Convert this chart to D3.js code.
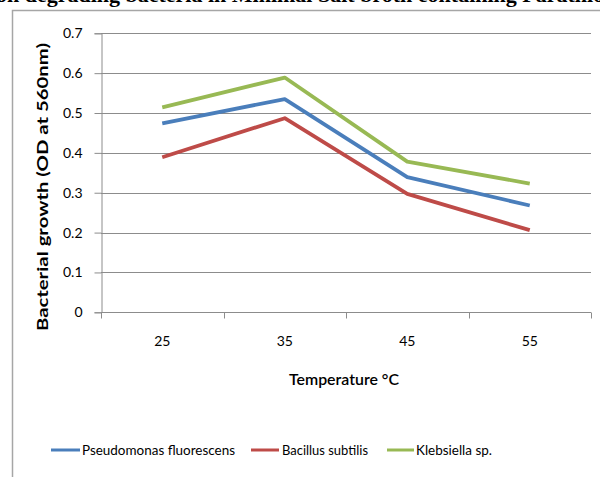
<!DOCTYPE html>
<html>
<head>
<meta charset="utf-8">
<script src="https://cdn.jsdelivr.net/npm/d3@7"></script>
<style>
  html, body { margin: 0; padding: 0; background: #fff; }
  svg { display: block; }
  text { font-family: Lato, "Open Sans", sans-serif; fill: #000; }
</style>
</head>
<body>
<svg id="chart" width="600" height="477"></svg>
<script>
// Temperatures tested (°C)
const temperatures = ["25", "35", "45", "55"];

// Optical density at 560 nm for each isolate
const pseudomonas = [0.474, 0.535, 0.339, 0.268];
const bacillus    = [0.389, 0.487, 0.297, 0.206];
const klebsiella  = [0.514, 0.589, 0.378, 0.323];

const seriesNames  = ["Pseudomonas fluorescens", "Bacillus subtilis", "Klebsiella sp."];
const seriesValues = [pseudomonas, bacillus, klebsiella];
const seriesColors = ["#4A7EBB", "#BE4B48", "#98B954"];

const yTicks = [0, 0.1, 0.2, 0.3, 0.4, 0.5, 0.6, 0.7];

const titleText = "Growth of Parathion degrading bacteria in Minimal Salt broth containing Parathion";

const svg = d3.select("#chart");

// Figure caption, partly above the top edge
const titleFont = "'Liberation Serif', 'DejaVu Serif', serif";
const title = svg.append("text")
  .attr("y", 1.5)
  .style("font-family", titleFont)
  .style("font-weight", "bold")
  .style("font-size", "22px")
  .text(titleText);
// align the word "bacteria" near x = 120
const probe = svg.append("text")
  .style("font-family", titleFont)
  .style("font-weight", "bold")
  .style("font-size", "22px")
  .text(titleText.slice(0, titleText.indexOf("bacteria")));
const prefixW = probe.node().getComputedTextLength();
probe.remove();
title.attr("x", 120 - prefixW);

// Chart area frame
svg.append("rect")
  .attr("x", 12.5).attr("y", 10.5)
  .attr("width", 640).attr("height", 520)
  .attr("fill", "none")
  .attr("stroke", "#a6a6a6")
  .attr("stroke-width", 1.5);

const plot = { left: 101, right: 591, top: 33.3, bottom: 312.3 };

const x = d3.scaleBand()
  .domain(temperatures)
  .range([plot.left, plot.right])
  .padding(0);

const y = d3.scaleLinear()
  .domain([0, 0.7])
  .range([plot.bottom, plot.top]);

// Horizontal gridlines
svg.append("g")
  .selectAll("line")
  .data(yTicks.filter(d => d > 0))
  .join("line")
  .attr("x1", plot.left).attr("x2", plot.right)
  .attr("y1", d => Math.round(y(d)) + 0.5)
  .attr("y2", d => Math.round(y(d)) + 0.5)
  .attr("stroke", "#8c8c8c")
  .attr("stroke-width", 1);

// Y axis
const yAxis = svg.append("g")
  .attr("transform", `translate(${plot.left + 0.5},0)`)
  .call(d3.axisLeft(y)
    .tickValues(yTicks)
    .tickSize(7)
    .tickPadding(12)
    .tickFormat(d => d === 0 ? "0" : d3.format(".1f")(d)));
yAxis.select(".domain").attr("stroke", "#8c8c8c").attr("stroke-width", 1);
yAxis.selectAll(".tick line").attr("stroke", "#8c8c8c");
yAxis.selectAll(".tick text")
  .style("font-size", "14px")
  .style("font-family", "Lato, sans-serif")
  .attr("fill", "#000");

// X axis: category labels centred in each band
const xAxis = svg.append("g")
  .attr("transform", `translate(0,${Math.round(plot.bottom) + 0.5})`)
  .call(d3.axisBottom(x).tickSize(0).tickPadding(24));
xAxis.select(".domain").remove();
xAxis.selectAll(".tick text")
  .style("font-size", "14px")
  .style("font-family", "Lato, sans-serif")
  .attr("fill", "#000");

// X axis line and tick marks at the band boundaries
const boundaries = temperatures.map(t => x(t)).concat([x(temperatures[temperatures.length - 1]) + x.bandwidth()]);
const by = Math.round(plot.bottom) + 0.5;
svg.append("line")
  .attr("x1", plot.left).attr("x2", plot.right)
  .attr("y1", by).attr("y2", by)
  .attr("stroke", "#8c8c8c");
svg.append("g")
  .selectAll("line")
  .data(boundaries)
  .join("line")
  .attr("x1", d => Math.round(d) + 0.5).attr("x2", d => Math.round(d) + 0.5)
  .attr("y1", by).attr("y2", by + 6)
  .attr("stroke", "#8c8c8c");

// Series lines
const line = d3.line()
  .x((d, i) => x(temperatures[i]) + x.bandwidth() / 2)
  .y(d => y(d));

svg.append("g")
  .selectAll("path")
  .data(seriesValues)
  .join("path")
  .attr("d", d => line(d))
  .attr("fill", "none")
  .attr("stroke", (d, i) => seriesColors[i])
  .attr("stroke-width", 3.8)
  .attr("stroke-linejoin", "round");

// Axis titles
svg.append("text")
  .attr("transform", "translate(48,187) rotate(-90)")
  .attr("text-anchor", "middle")
  .attr("textLength", 288)
  .attr("lengthAdjust", "spacingAndGlyphs")
  .style("font-weight", "bold")
  .style("font-size", "15px")
  .text("Bacterial growth (OD at 560nm)");

svg.append("text")
  .attr("x", 344).attr("y", 385)
  .attr("text-anchor", "middle")
  .attr("textLength", 110)
  .attr("lengthAdjust", "spacingAndGlyphs")
  .style("font-size", "15px")
  .style("font-weight", "600")
  .text("Temperature °C");

// Legend
const legendItems = [
  { x0: 51, x1: 80, tx: 82, w: 153 },
  { x0: 251, x1: 279, tx: 282, w: 86 },
  { x0: 387, x1: 414, tx: 416, w: 76 }
];
const legend = svg.append("g");
legend.selectAll("line")
  .data(seriesNames)
  .join("line")
  .attr("x1", (d, i) => legendItems[i].x0)
  .attr("x2", (d, i) => legendItems[i].x1)
  .attr("y1", 450).attr("y2", 450)
  .attr("stroke", (d, i) => seriesColors[i])
  .attr("stroke-width", 3);
legend.selectAll("text")
  .data(seriesNames)
  .join("text")
  .attr("x", (d, i) => legendItems[i].tx)
  .attr("y", 455)
  .attr("textLength", (d, i) => legendItems[i].w)
  .attr("lengthAdjust", "spacingAndGlyphs")
  .style("font-size", "13px")
  .text(d => d);
</script>
</body>
</html>
